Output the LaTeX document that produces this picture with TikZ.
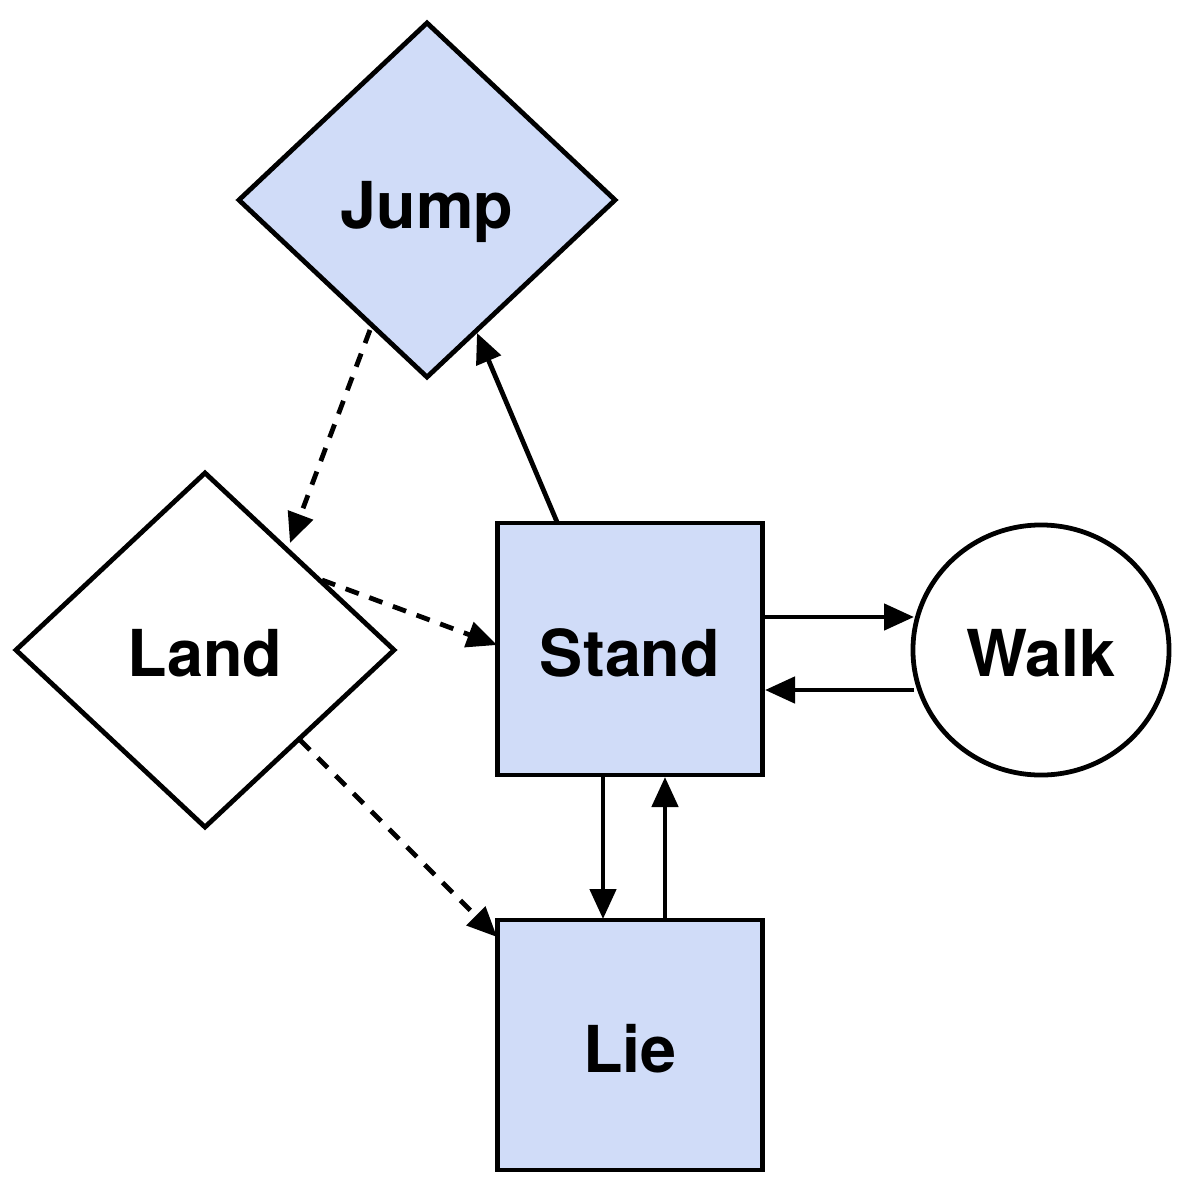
\documentclass[tikz,border=0pt]{standalone}
\usepackage{fontspec}
\setmainfont{TeX Gyre Heros}
\usetikzlibrary{shapes.geometric,arrows.meta}
\definecolor{fillb}{HTML}{D0DCF8}
\begin{document}
\begin{tikzpicture}[x=0.025cm,y=-0.025cm,
  base/.style={draw=black,line width=3.4pt,inner sep=0pt,font=\fontsize{46}{54}\selectfont\bfseries},
  lbl/.style={font=\fontsize{46}{54}\selectfont\bfseries,inner sep=0pt,anchor=base},
  dia/.style={base,diamond},
  box/.style={base,rectangle,fill=fillb},
  arr/.style={line width=3.4pt,-{Triangle[length=0.75cm,width=0.65cm]}},
  dsh/.style={arr,dash pattern=on 0.35cm off 0.28cm}]
\useasboundingbox (0,0) rectangle (1196,1190);
\node[dia,fill=fillb,minimum width=9.45cm,minimum height=8.9cm] (jump) at (427,200) {};
\node[dia,fill=white,minimum width=9.5cm,minimum height=8.9cm] (land) at (205,650) {};
\node[box,minimum width=6.625cm,minimum height=6.3cm] (stand) at (630,649) {};
\node[box,minimum width=6.625cm,minimum height=6.25cm] (lie) at (630,1045) {};
\node[base,ellipse,fill=white,minimum width=6.4cm,minimum height=6.25cm] (walk) at (1041,650) {};
\node[lbl] (tjump) at (427,228) {Jump};
\node[lbl] (tland) at (205,676) {Land};
\node[lbl] (tstand) at (630,676) {Stand};
\node[lbl] (tlie) at (630,1072) {Lie};
\node[lbl] (twalk) at (1041,676) {Walk};
\coordinate (s1) at (557,522); \coordinate (j1) at (477,333);
\coordinate (j2) at (370,330); \coordinate (l1) at (290,543);
\coordinate (l2) at (322,580); \coordinate (s2) at (497,645);
\coordinate (l3) at (300,740); \coordinate (i1) at (497,937);
\coordinate (s3) at (763,617); \coordinate (w1) at (914,617);
\coordinate (w2) at (914,690); \coordinate (s4) at (765,690);
\coordinate (s5) at (603,777); \coordinate (i2) at (603,919);
\coordinate (i3) at (665,919); \coordinate (s6) at (665,777);
\draw[arr] (s1) -- (j1);
\draw[dsh] (j2) -- (l1);
\draw[dsh] (l2) -- (s2);
\draw[dsh] (l3) -- (i1);
\draw[arr] (s3) -- (w1);
\draw[arr] (w2) -- (s4);
\draw[arr] (s5) -- (i2);
\draw[arr] (i3) -- (s6);
\end{tikzpicture}
\end{document}
